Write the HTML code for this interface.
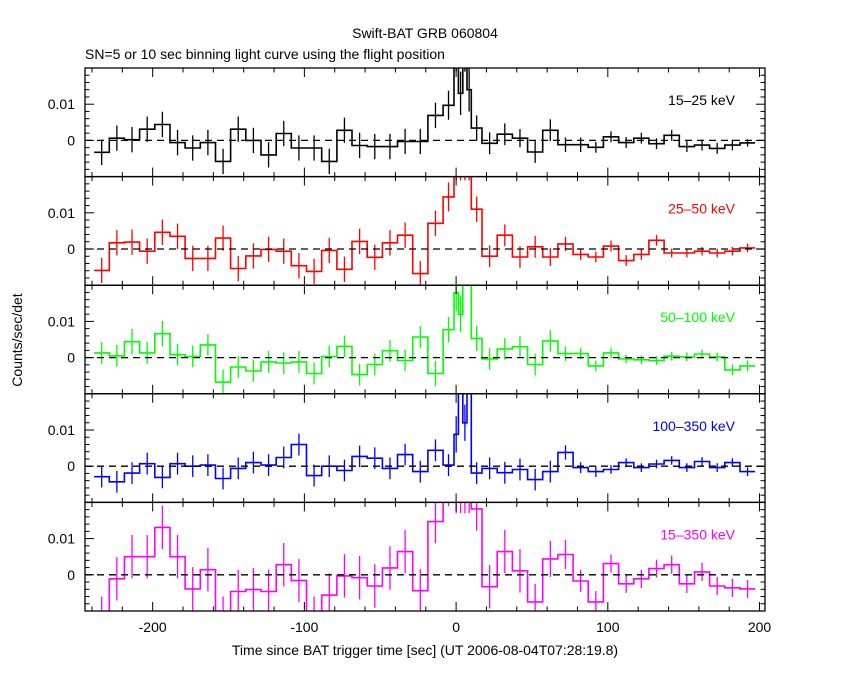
<!DOCTYPE html>
<html><head><meta charset="utf-8"><style>
body{margin:0;background:#fff;}
svg text{font-family:"Liberation Sans",sans-serif;font-size:14px;}
</style></head><body>
<svg id="chart" width="850" height="680" viewBox="0 0 850 680">
<text x="425" y="38" text-anchor="middle">Swift-BAT GRB 060804</text>
<text x="85" y="59">SN=5 or 10 sec binning light curve using the flight position</text>
<text transform="translate(22,340) rotate(-90)" text-anchor="middle">Counts/sec/det</text>
<text x="425" y="655" text-anchor="middle">Time since BAT trigger time [sec] (UT 2006-08-04T07:28:19.8)</text>
<g id="panels"></g>
</svg>
<script>
// bin edges in seconds
const binEdges = [-238.6,-228.6,-218.6,-208.6,-198.6,-188.6,-178.6,-168.6,-158.6,-148.6,-138.6,-128.6,-118.6,-108.6,-98.6,-88.6,-78.6,-68.6,-58.6,-48.6,-38.6,-28.6,-18.6,-8.6,-1.4,1.5,4.4,7.2,10,17.1,27.1,37.1,47.1,57.1,67.1,77.1,87.1,97.1,107.1,117.1,127.1,137.1,147.1,157.1,167.1,177.1,187.1,197.1];
// rates in units of 0.001 counts/sec/det
const rates15_25 = [-3.3,0.6,0.2,3.1,4.4,-0.6,-2.1,-0.6,-5.8,3.1,0,-4.0,1.9,-2.1,-2.1,-5.8,2.8,-1.4,-1.7,-1.7,-0.3,-0.3,6.9,9.7,25,13,25,14,3.4,-0.8,1.7,0.6,-3.2,2.8,-1.2,-1.2,-1.9,1.0,-0.6,0.6,-0.9,1.4,-1.7,-1.3,-2.2,-1.3,-0.7];
const rates25_50 = [-5.9,1.7,1.9,-0.6,4.6,3.5,-2.6,-2.6,3.0,-5.4,-1.9,-0.1,-0.6,-4.6,-6.2,-0.4,-5.6,2.1,-2.3,1.7,3.8,-6.8,7.1,14.4,25,25,25,25,11.0,-2.0,3.8,-2.2,0.6,-2.2,1.4,-1.5,-2.2,0.8,-3.2,-1.5,2.4,-1.1,-1.1,-0.6,-1.1,-0.6,0.3];
const rates50_100 = [1.3,0.5,4.4,1.3,6.6,0.8,0.3,3.5,-6.8,-2.6,-3.7,-1.2,-1.5,-1.2,-4.4,0.3,3.1,-4.7,-1.9,1.9,-0.8,5.7,-4.4,7.7,17.9,12,25,25,5.3,-0.4,2.4,3.0,-1.9,4.6,1.1,1.1,-2.3,1.3,-0.4,-0.6,-0.8,0.4,0.2,1.0,0.2,-3.4,-2.3];
const rates100_350 = [-2.9,-4.3,-1.9,0.7,-3.1,0.7,0,0.3,-3.4,-0.6,1.0,0.3,2.4,6.0,-2.6,0,-1.2,2.7,2.2,-0.6,3.2,-1.5,4.4,0.3,8.8,25,12,25,-1.9,-0.6,-1.8,-0.9,-3.7,-1.5,3.8,-0.4,-1.5,-0.9,1.0,-0.4,0.6,1.6,-0.4,1.3,-0.4,1.0,-1.5];
const rates15_350 = [-12,-1.1,5.0,5.0,13.1,5.0,-3.9,1.4,-12,-4.6,-4.1,-4.6,2.8,-1.6,-12,-5.6,-0.3,-0.8,-3.1,1.9,6.4,-4.4,14.7,25,25,25,25,25,18.2,-3.3,6.4,1.1,-7.5,4.4,5.6,-1.7,-7.5,3.1,-2.5,-1.1,1.7,2.8,-2.5,0.8,-3.1,-3.6,-3.9];
const errs15_25 = [3.5,3.5,3.5,3.5,3.5,3.5,3.5,3.5,3.5,3.5,3.5,3.5,3.5,3.5,3.5,3.5,3.5,3.5,3.5,3.5,3.5,3.5,3.5,4,6,6,6,6,3.5,3,3,2.5,3,3,2,2,1.5,1.5,1.5,1.5,1.5,1.5,1.5,1.5,1.5,1.5,1];
const errs25_50 = [3.5,3.5,3.5,3.5,3.5,3.5,3.5,3.5,3.5,3.5,3.5,3.5,3.5,3.5,3.5,3.5,3.5,3.5,3.5,3.5,3.5,3.5,3.5,4,6,6,6,6,3.5,3,3,3,3,2.5,2,1.5,1.5,1.5,1.5,1.5,1.5,1.2,1.2,1.2,1.2,1.2,1.2];
const errs50_100 = [3,3,3.5,3,3.5,3,3,3,3.5,3,3,3,3,3,3,3,3,3,3,3,3,3,3.5,3.5,5,5,5,5,3.5,3,3,3,3,3,2,1.5,1.5,1.5,1.2,1.2,1.2,1.2,1.2,1.2,1.2,1.5,1.5];
const errs100_350 = [3,3,3,3,3,3,3,3,3,3,3,3,3,3,3,3,3,3,3,3,3,3,3,3,5,5,5,5,3,3,3,3,3,3,2,1.5,1.5,1.2,1.2,1.2,1.2,1.2,1.2,1.2,1.2,1.2,1.2];
const errs15_350 = [6,6,6,6,6,6,6,6,6,6,6,6,6,6,6,6,6,6,6,6,6,6,6,6,8,8,8,8,6,6,6,6,5,5,4,3,3,2.5,2.5,2.5,2.5,2.5,2.5,2.5,2.5,2.5,2.5];
const xTicks = [-200,-100,0,100,200];
const yTickLabels = ["0.01","0"];
const yTickValues = [10,0];
const panelLabels = ["15\u201325 keV","25\u201350 keV","50\u2013100 keV","100\u2013350 keV","15\u2013350 keV"];
const panelColors = ["#000","#f00","#0f0","#00f","#f0f"];
const panelRates = [rates15_25,rates25_50,rates50_100,rates100_350,rates15_350];
const panelErrs = [errs15_25,errs25_50,errs50_100,errs100_350,errs15_350];

const NS="http://www.w3.org/2000/svg";
const X0=85,X1=765,TMIN=-244.6,TMAX=203.6;
const PH=108.6,PTOP=68;
function xs(t){return X0+(t-TMIN)/(TMAX-TMIN)*(X1-X0);}
function ys(p,v){const top=PTOP+p*PH;return top+(20-v)/30*PH;}
function mk(tag,attrs,parent){const e=document.createElementNS(NS,tag);for(const k in attrs)e.setAttribute(k,attrs[k]);parent.appendChild(e);return e;}
const root=document.getElementById('panels');
const defs=mk('defs',{},root);
for(let p=0;p<5;p++){
  const top=PTOP+p*PH, bot=top+PH;
  const cp=mk('clipPath',{id:'cp'+p},defs);
  mk('rect',{x:X0,y:top,width:X1-X0,height:PH},cp);
  const g=mk('g',{},root);
  
  
  const dg=mk('g',{'clip-path':'url(#cp'+p+')'},g);
  const r=panelRates[p], e=panelErrs[p], c=panelColors[p];
  let d='';
  for(let i=0;i<r.length;i++){
    const xa=xs(binEdges[i]),xb=xs(binEdges[i+1]),y=ys(p,r[i]);
    d+=(i===0?'M':'L')+xa.toFixed(1)+','+y.toFixed(1)+'L'+xb.toFixed(1)+','+y.toFixed(1);
    const xm=(xa+xb)/2;
    const eb=mk('line',{x1:xm,x2:xm,y1:ys(p,r[i]-e[i]),y2:ys(p,r[i]+e[i]),stroke:c,'stroke-width':1.3},dg);
    
    
  }
  const path=mk('path',{d:d,fill:'none',stroke:c,'stroke-width':1.6},dg);
  
  
  const zl=mk('line',{x1:X0,x2:X1,y1:ys(p,0),y2:ys(p,0),stroke:'#000','stroke-width':1.3,'stroke-dasharray':'7,5'},g);
  
  
  const fr=mk('rect',{x:X0,y:top,width:X1-X0,height:PH,fill:'none',stroke:'#000','stroke-width':1.3},g);
  
  
  // x ticks
  for(let t=-240;t<=200;t+=20){
    const x=xs(t),L=(t%100===0)?9:4.5;
    mk('line',{x1:x,x2:x,y1:top,y2:top+L,stroke:'#000'},g);
    mk('line',{x1:x,x2:x,y1:bot,y2:bot-L,stroke:'#000'},g);
  }
  // y ticks
  for(let v=-10;v<=20;v+=2){
    const y=ys(p,v),L=(v%10===0)?9:4.5;
    mk('line',{x1:X0,x2:X0+L,y1:y,y2:y,stroke:'#000'},g);
    mk('line',{x1:X1,x2:X1-L,y1:y,y2:y,stroke:'#000'},g);
  }
  for(let k=0;k<yTickValues.length;k++){
    const tl=mk('text',{x:75,y:ys(p,yTickValues[k])+5,'text-anchor':'end'},g);
    tl.textContent=yTickLabels[k];
    
    
  }
  const lab=mk('text',{x:735,y:top+37,'text-anchor':'end',fill:c},g);
  lab.textContent=panelLabels[p];
  
  
}
const bottom=PTOP+5*PH;
for(const t of xTicks){
  const tl=mk('text',{x:xs(t),y:bottom+21,'text-anchor':'middle'},root);
  tl.textContent=String(t);
  
  
}
</script>
</body></html>
